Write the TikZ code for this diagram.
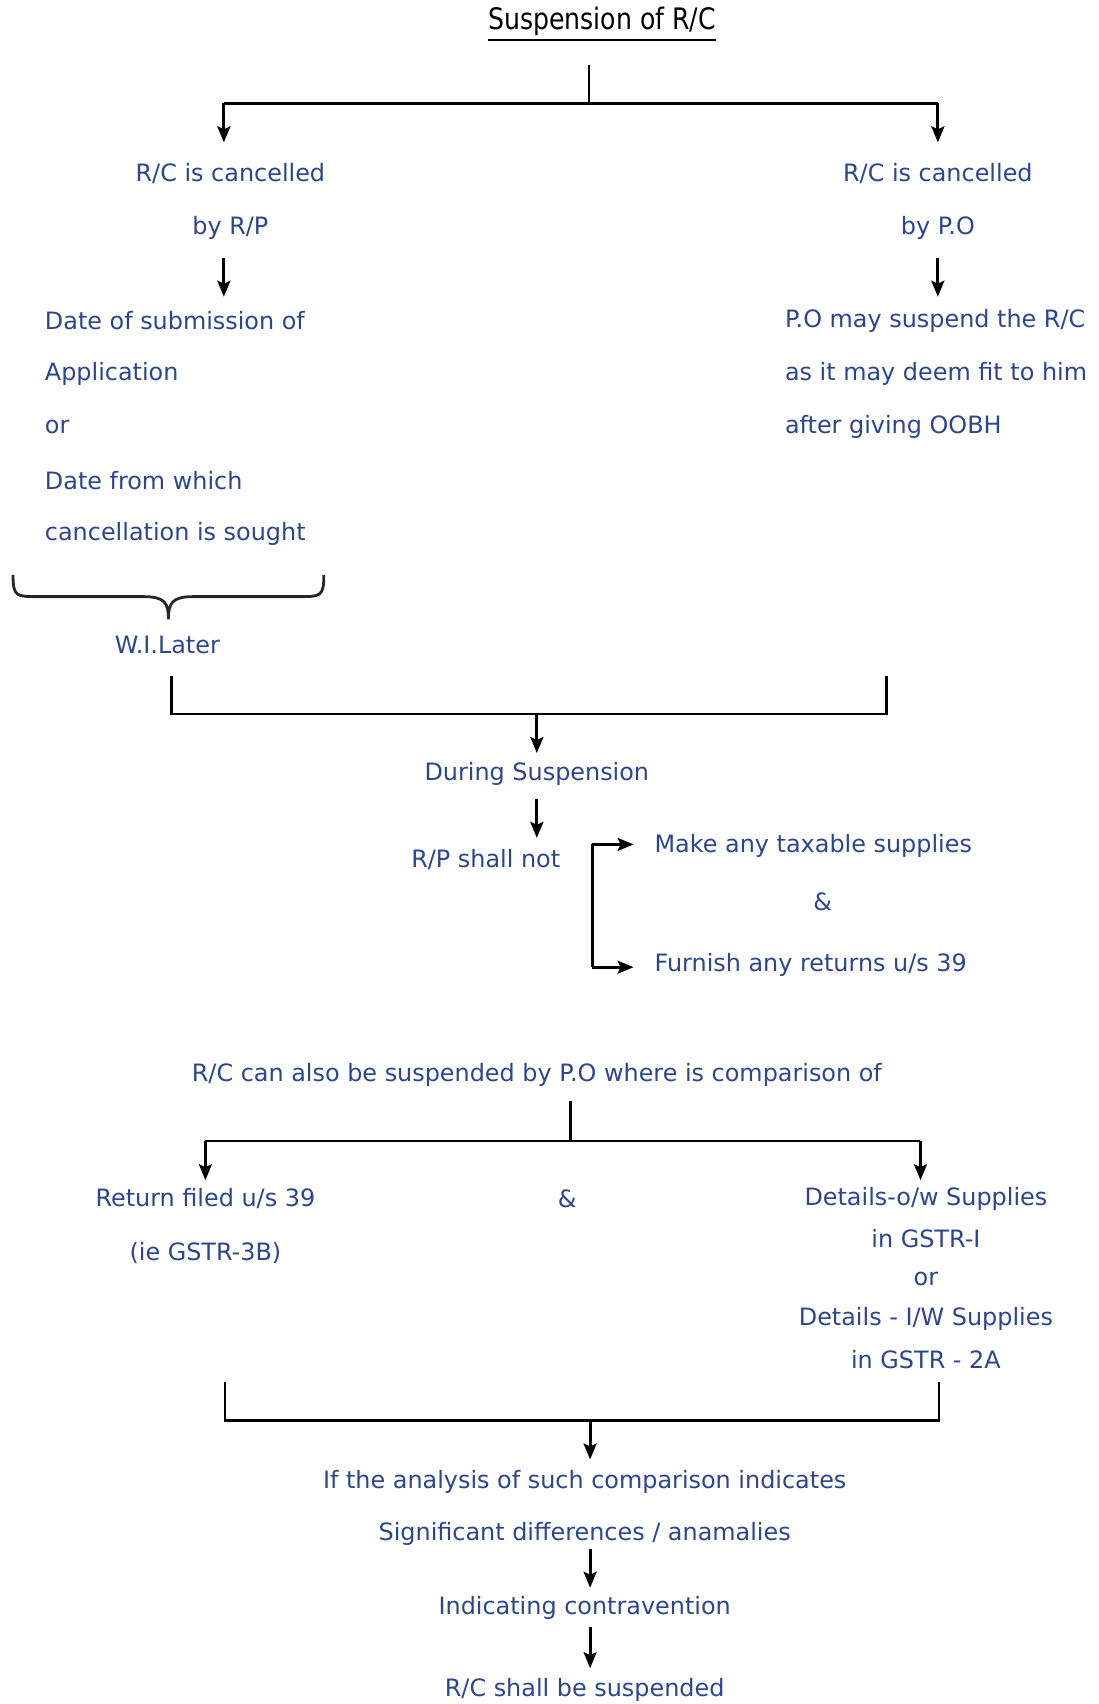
\documentclass[tikz,border=0pt]{standalone}
\usepackage{fontspec}
\setmainfont{DejaVu Sans}
\newfontfamily\titlefont[FakeStretch=0.85]{DejaVu Sans}
\usetikzlibrary{arrows.meta}
\definecolor{txtblue}{HTML}{2B4590}
\begin{document}
\begin{tikzpicture}[x=0.5435pt,y=-0.5435pt,
  txt/.style={text=txtblue,font=\fontsize{11.95}{14}\selectfont,inner sep=0pt,yshift=-1pt},
  lw/.style={txt,anchor=west},
  ln/.style={line width=1.4pt},
  arr/.style={line width=1.4pt,-{Stealth[length=8pt,width=6.5pt,inset=1.5pt]}}]
\useasboundingbox (0,0) rectangle (1011,1568);
% title
\node[inner sep=0pt,font=\titlefont\fontsize{14.8}{16}\selectfont] (title) at (554,20) {Suspension of R/C};
\draw[line width=1pt] ([yshift=-2pt]title.south west) -- ([yshift=-2pt]title.south east);
% first split
\coordinate (t0) at (542,60);
\coordinate (tj) at (542,95);
\coordinate (tl) at (206,95);
\coordinate (tr) at (863,95);
\node[txt] (l1) at (212,158) {R/C is cancelled};
\node[txt] (l2) at (212,208) {by R/P};
\node[txt] (r1) at (863,158) {R/C is cancelled};
\node[txt] (r2) at (863,208) {by P.O};
\coordinate (l1t) at (206,131);
\coordinate (r1t) at (863,131);
\draw[ln] (t0) -- (tj);
\draw[ln] (tl) -- (tr);
\draw[arr] (tl) -- (l1t);
\draw[arr] (tr) -- (r1t);
% second level
\coordinate (l2b) at (206,237);
\coordinate (l3t) at (206,273);
\coordinate (r2b) at (863,237);
\coordinate (r3t) at (863,273);
\draw[arr] (l2b) -- (l3t);
\draw[arr] (r2b) -- (r3t);
\node[lw] (a1) at (41,293) {Date of submission of};
\node[lw] (a2) at (41,342) {Application};
\node[lw] (a3) at (41,391) {or};
\node[lw] (a4) at (41,440) {Date from which};
\node[lw] (a5) at (41,489) {cancellation is sought};
\node[lw] (b1) at (722,293) {P.O may suspend the R/C};
\node[lw] (b2) at (722,342) {as it may deem fit to him};
\node[lw] (b3) at (722,391) {after giving OOBH};
% brace
\draw[line width=1.4pt,black!85] (12,529) .. controls (12,549) and (15,549) .. (35,549) -- (132,549)
  .. controls (152,549) and (155,555) .. (155,570)
  .. controls (155,555) and (158,549) .. (178,549) -- (275,549)
  .. controls (295,549) and (298,549) .. (298,529);
\node[txt] (wil) at (154,592) {W.I.Later};
% merge
\coordinate (m1) at (158,622);
\coordinate (m2) at (158,657);
\coordinate (m3) at (816,622);
\coordinate (m4) at (816,657);
\coordinate (mj) at (494,657);
\coordinate (ds) at (494,693);
\draw[ln] (m1) -- (m2) -- (m4) -- (m3);
\draw[arr] (mj) -- (ds);
\node[txt] (during) at (494,710) {During Suspension};
\coordinate (d1) at (494,735);
\coordinate (d2) at (494,771);
\draw[arr] (d1) -- (d2);
\node[txt] (rp) at (447,789) {R/P shall not};
\coordinate (k1) at (545,777);
\coordinate (k2) at (545,890);
\coordinate (k1e) at (583,777);
\coordinate (k2e) at (583,890);
\draw[ln] (k1) -- (k2);
\draw[arr] (k1) -- (k1e);
\draw[arr] (k2) -- (k2e);
\node[lw] (make) at (602,777) {Make any taxable supplies};
\node[txt] (amp1) at (757,828) {\&};
\node[lw] (furn) at (602,886) {Furnish any returns u/s 39};
% second part
\node[txt] (also) at (494,987) {R/C can also be suspended by P.O where is comparison of};
\coordinate (s0) at (525,1013);
\coordinate (sj) at (525,1050);
\coordinate (sl) at (189,1050);
\coordinate (sr) at (847,1050);
\coordinate (slt) at (189,1086);
\coordinate (srt) at (847,1086);
\draw[ln] (s0) -- (sj);
\draw[ln] (sl) -- (sr);
\draw[arr] (sl) -- (slt);
\draw[arr] (sr) -- (srt);
\node[txt] (ret1) at (189,1101) {Return filed u/s 39};
\node[txt] (ret2) at (189,1151) {(ie GSTR-3B)};
\node[txt] (amp2) at (522,1101) {\&};
\node[txt] (det1) at (852,1101) {Details-o/w Supplies};
\node[txt] (det2) at (852,1138) {in GSTR-I};
\node[txt] (det3) at (852,1175) {or};
\node[txt] (det4) at (852,1212) {Details - I/W Supplies};
\node[txt] (det5) at (852,1249) {in GSTR - 2A};
% merge 2
\coordinate (n1) at (207,1272);
\coordinate (n2) at (207,1307);
\coordinate (n3) at (864,1272);
\coordinate (n4) at (864,1307);
\coordinate (nj) at (543,1307);
\coordinate (nt) at (543,1343);
\draw[ln] (n1) -- (n2) -- (n4) -- (n3);
\draw[arr] (nj) -- (nt);
\node[txt] (if) at (538,1362) {If the analysis of such comparison indicates};
\node[txt] (sig) at (538,1410) {Significant differences / anamalies};
\coordinate (p1) at (543,1425);
\coordinate (p2) at (543,1461);
\draw[arr] (p1) -- (p2);
\node[txt] (ind) at (538,1478) {Indicating contravention};
\coordinate (q1) at (543,1497);
\coordinate (q2) at (543,1535);
\draw[arr] (q1) -- (q2);
\node[txt] (fin) at (538,1553) {R/C shall be suspended};
\end{tikzpicture}
\end{document}
